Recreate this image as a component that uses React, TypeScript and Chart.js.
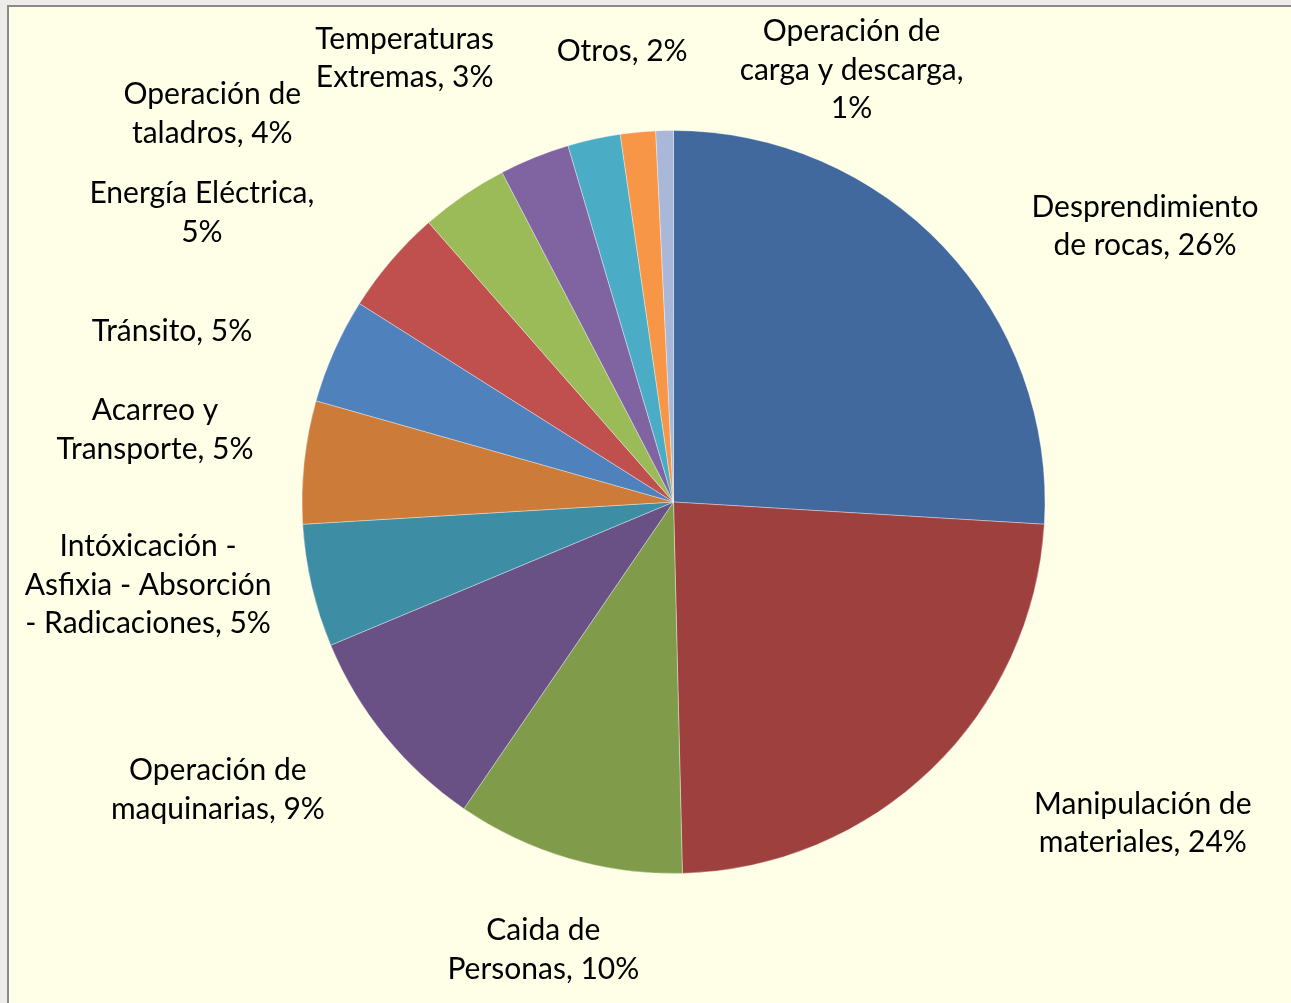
import React, { useEffect, useRef } from "react";
import { Chart, registerables } from "chart.js";

Chart.register(...registerables);

// ---- Data ----
const categories = [
  "Desprendimiento de rocas",
  "Manipulación de materiales",
  "Caida de Personas",
  "Operación de maquinarias",
  "Intóxicación - Asfixia - Absorción - Radicaciones",
  "Acarreo y Transporte",
  "Tránsito",
  "Energía Eléctrica",
  "Operación de taladros",
  "Temperaturas Extremas",
  "Otros",
  "",
  "Operación de carga y descarga",
];
const counts = [34, 31, 13, 12, 7, 7, 6, 6, 5, 4, 3, 2, 1];
const sliceColors = [
  "#41699D",
  "#9E413E",
  "#809C4A",
  "#695185",
  "#3D8EA4",
  "#CC7B38",
  "#4F81BD",
  "#C0504D",
  "#9BBB59",
  "#8064A2",
  "#4BACC6",
  "#F79646",
  "#A9B8D8",
];
// label placement: polar angle (deg, clockwise from 12 o'clock) and distance as a multiple of the radius
const labelAngles = [59.7, 124.4, 196.2, 237.7, 261, 277.9, 288.8, 301.5, 310.1, 328.8, 353.5, 0, 22.4];
const labelDistances = [1.47, 1.531, 1.256, 1.451, 1.432, 1.409, 1.426, 1.489, 1.623, 1.397, 1.222, 0, 1.258];
// wrap width of each label box (px)
const labelWrapWidths = [240, 240, 240, 240, 256, 240, 240, 240, 240, 240, 240, 240, 240];

const FONT_SIZE = 30;
const FONT_FAMILY = "Lato";
const LINE_HEIGHT = 38.5;

const total = counts.reduce((a, b) => a + b, 0);

function wrapText(ctx: CanvasRenderingContext2D, text: string, maxW: number): string[] {
  const words = text.split(" ");
  const lines: string[] = [];
  let cur = "";
  for (const w of words) {
    const test = cur ? cur + " " + w : w;
    if (cur && ctx.measureText(test).width > maxW) {
      lines.push(cur);
      cur = w;
    } else {
      cur = test;
    }
  }
  if (cur) lines.push(cur);
  return lines;
}

const labelPlugin = {
  id: "outerLabels",
  afterDatasetsDraw(chart: any) {
    const ctx: CanvasRenderingContext2D = chart.ctx;
    const meta = chart.getDatasetMeta(0);
    ctx.save();
    ctx.font = `${FONT_SIZE}px ${FONT_FAMILY}`;
    ctx.fillStyle = "#000000";
    ctx.textAlign = "center";
    ctx.textBaseline = "middle";
    meta.data.forEach((arc: any, i: number) => {
      const name = categories[i];
      if (!name) return;
      const pct = Math.round((counts[i] / total) * 100);
      const text = `${name}, ${pct}%`;
      const lines = wrapText(ctx, text, labelWrapWidths[i]);
      const { x, y, outerRadius } = arc.getProps(["x", "y", "outerRadius"], true);
      const a = (labelAngles[i] * Math.PI) / 180;
      const d = labelDistances[i] * outerRadius;
      const lx = x + Math.sin(a) * d;
      const ly = y - Math.cos(a) * d;
      const startY = ly - ((lines.length - 1) * LINE_HEIGHT) / 2;
      lines.forEach((ln, k) => {
        ctx.fillText(ln, lx, startY + k * LINE_HEIGHT);
      });
    });
    ctx.restore();
  },
};

const CW = 1282;
const CH = 996;

export default function App() {
  const ref = useRef<HTMLCanvasElement | null>(null);
  useEffect(() => {
    document.body.style.margin = "0";
    const canvas = ref.current!;
    const cx = 664.5;
    const cy = 495;
    const r = 372;
    const chart = new Chart(canvas, {
      type: "pie",
      data: {
        labels: categories,
        datasets: [
          {
            data: counts,
            backgroundColor: sliceColors,
            borderColor: "rgba(255,255,255,0.35)",
            borderWidth: 1,
          },
        ],
      },
      options: {
        animation: false,
        responsive: false,
        maintainAspectRatio: false,
        layout: {
          padding: { left: cx - r, top: cy - r, right: CW - cx - r, bottom: CH - cy - r },
        },
        plugins: {
          legend: { display: false },
          tooltip: { enabled: false },
        },
      },
      plugins: [labelPlugin],
    });
    return () => chart.destroy();
  }, []);
  return (
    <div
      style={{
        position: "fixed",
        left: 0,
        top: 0,
        width: 1291,
        height: 1003,
        background: "#EEECE9",
        overflow: "hidden",
      }}
    >
      <div
        style={{
          position: "absolute",
          left: 7,
          top: 5,
          width: 1284,
          height: 998,
          background: "#FFFFE8",
          borderLeft: "2px solid #8A8A8A",
          borderTop: "2px solid #8A8A8A",
          boxSizing: "border-box",
        }}
      >
        <canvas ref={ref} width={CW} height={CH} style={{ display: "block", width: CW, height: CH }} />
      </div>
    </div>
  );
}
